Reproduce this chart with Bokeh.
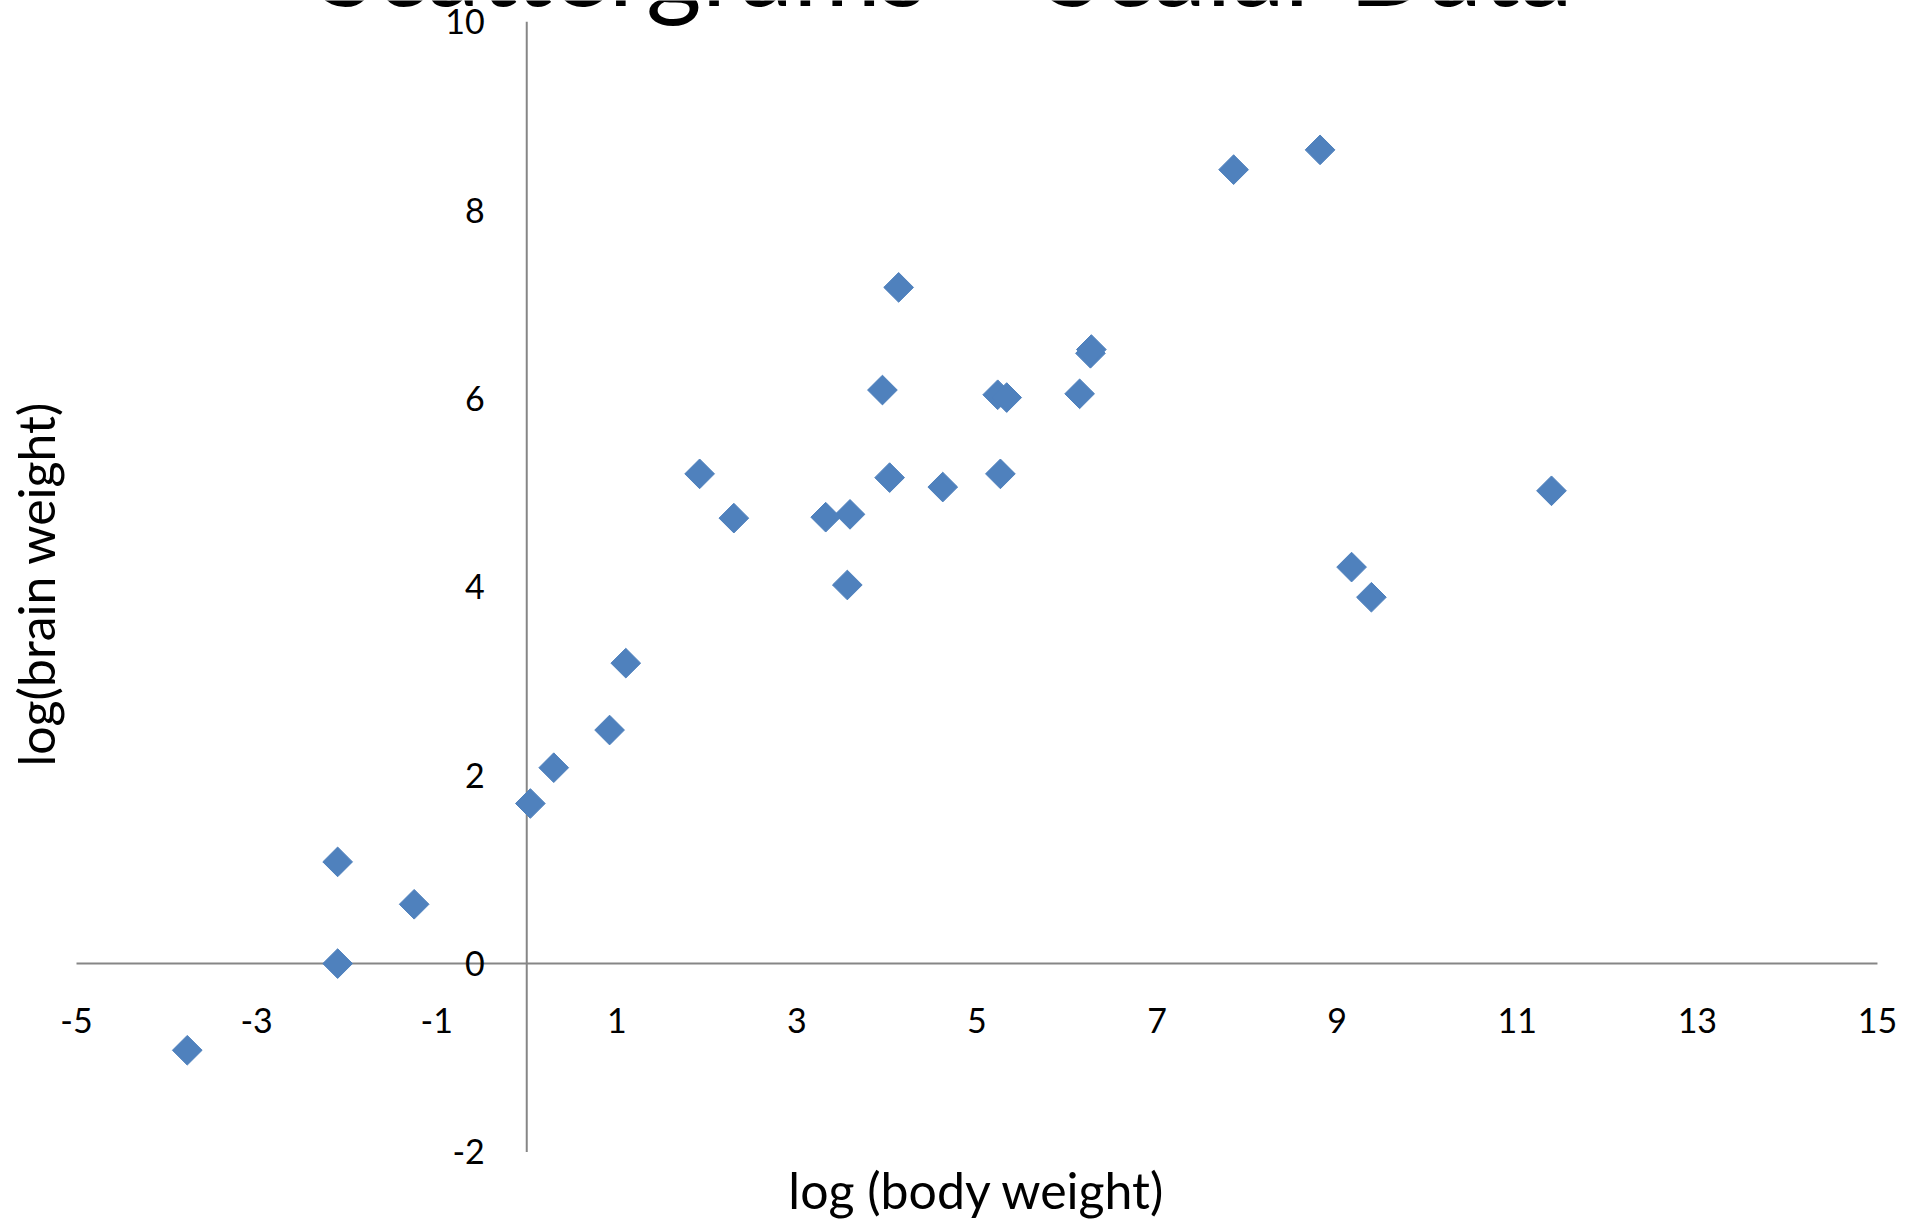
import math
from bokeh.plotting import figure
from bokeh.models import LinearAxis, FixedTicker, Range1d, Label, ColumnDataSource
from bokeh.embed import file_html
from bokeh.resources import INLINE

# ---- data (natural log of body weight in kg and brain weight in g) ----
animals = ["Mountain beaver", "Cow", "Grey wolf", "Goat", "Guinea pig", "Dipliodocus",
           "Asian elephant", "Donkey", "Horse", "Potar monkey", "Cat", "Giraffe",
           "Gorilla", "Human", "African elephant", "Triceratops", "Rhesus monkey",
           "Kangaroo", "Golden hamster", "Mouse", "Rabbit", "Sheep", "Jaguar",
           "Chimpanzee", "Rat", "Brachiosaurus", "Mole", "Pig"]
log_body = [0.30, 6.14, 3.59, 3.32, 0.04, 9.38, 7.85, 5.23, 6.26, 2.30, 1.10, 6.27,
            5.33, 4.13, 8.81, 9.16, 1.92, 3.56, -2.10, -3.77, 0.92, 4.03, 4.62,
            3.95, -1.25, 11.38, -2.10, 5.26]
log_brain = [2.08, 6.05, 4.77, 4.74, 1.70, 3.89, 8.43, 6.04, 6.48, 4.73, 3.19, 6.52,
             6.01, 7.18, 8.64, 4.21, 5.20, 4.02, 0.00, -0.92, 2.48, 5.16, 5.06,
             6.09, 0.63, 5.02, 1.08, 5.20]

x_ticks = [-5, -3, -1, 1, 3, 5, 7, 9, 11, 13, 15]
y_ticks = [-2, 0, 2, 4, 6, 8, 10]

title_text = "Scattergrams \u2013 Scalar Data"
x_title = "log (body weight)"
y_title = "log(brain weight)"

FONT = "Lato"
AXIS_GREY = "#868686"
MARKER_BLUE = "#4F81BD"

src = ColumnDataSource(dict(name=animals, x=log_body, y=log_brain))

# frame covers the whole canvas; the ranges leave room around the axis extents
p = figure(width=1921, height=1219, output_backend="svg", toolbar_location=None,
           x_range=Range1d(-5.844, 15.489), y_range=Range1d(-2.717, 10.226),
           x_axis_location=None, y_axis_location=None,
           min_border_left=0, min_border_right=0,
           min_border_top=0, min_border_bottom=0)
p.title.visible = False
p.outline_line_color = None
p.xgrid.visible = False
p.ygrid.visible = False
p.background_fill_color = "white"
p.border_fill_color = "white"

# axis lines, crossing at zero, spanning the tick extents
p.segment(x0=[x_ticks[0], 0], y0=[0, y_ticks[0]], x1=[x_ticks[-1], 0], y1=[0, y_ticks[-1]],
          line_color=AXIS_GREY, line_width=2, line_cap="butt")

def style_axis(ax, ticks, standoff):
    ax.axis_line_color = None
    ax.major_tick_in = 0
    ax.major_tick_out = 0
    ax.minor_tick_in = 0
    ax.minor_tick_out = 0
    ax.major_label_overrides = {t: str(t) for t in ticks}
    ax.major_label_text_font = FONT
    ax.major_label_text_font_size = "34px"
    ax.major_label_text_color = "black"
    ax.major_label_standoff = standoff

xaxis = LinearAxis(fixed_location=0, ticker=FixedTicker(ticks=x_ticks))
style_axis(xaxis, x_ticks, 44)
p.add_layout(xaxis, "below")

yaxis = LinearAxis(fixed_location=0, ticker=FixedTicker(ticks=y_ticks))
style_axis(yaxis, y_ticks, 42)
p.add_layout(yaxis, "left")

p.scatter("x", "y", source=src, marker="square", size=21, angle=math.pi / 4,
          fill_color=MARKER_BLUE, line_color=MARKER_BLUE, line_width=1)

title = Label(x=4.66, y=10.61, x_units="data", y_units="data",
              text=title_text, text_align="center", text_baseline="middle", text_font=FONT,
              text_font_size="107px", text_color="black")
p.add_layout(title)

xlab = Label(x=(x_ticks[0] + x_ticks[-1]) / 2, y=-2.40, x_units="data", y_units="data",
             text=x_title, text_align="center", text_baseline="middle", text_font=FONT,
             text_font_size="50px", text_color="black")
p.add_layout(xlab)

ylab = Label(x=-5.448, y=4.03, x_units="data", y_units="data", angle=math.pi / 2,
             text=y_title, text_align="center", text_baseline="middle", text_font=FONT,
             text_font_size="50px", text_color="black")
p.add_layout(ylab)

open("out.html", "w").write(file_html(p, INLINE))
